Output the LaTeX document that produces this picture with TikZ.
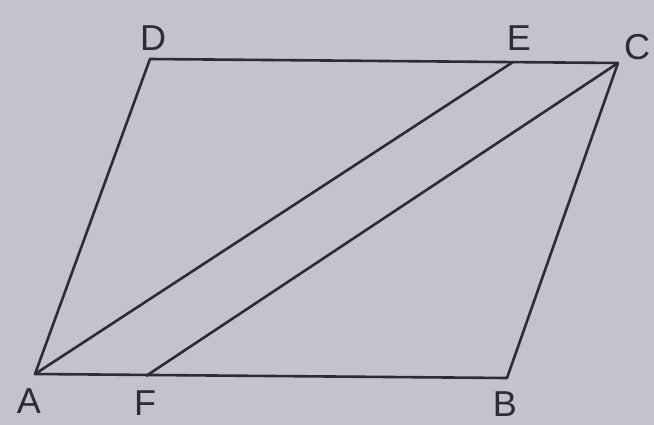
\documentclass[tikz,border=0pt]{standalone}
\usepackage{fontspec}
\setmainfont{Liberation Sans}
\definecolor{paper}{RGB}{196,195,204}
\definecolor{ink}{RGB}{45,44,50}
\tikzstyle{lbl}=[text=ink,font=\fontsize{36}{42}\selectfont]
\tikzstyle{edge}=[ink,line width=2.6pt,line join=round]

\begin{document}
\begin{tikzpicture}[x=1pt,y=-1pt]
\fill[paper] (0,0) rectangle (654,425);
\useasboundingbox (0,0) rectangle (654,425);
\coordinate (A) at (35,374);
\coordinate (B) at (507,378);
\coordinate (C) at (618,63);
\coordinate (D) at (150,59);
\coordinate (E) at (513,62);
\coordinate (F) at (146,376);
\node[lbl] (lA) at (29,401) {A};
\node[lbl] (lB) at (505,404) {B};
\node[lbl] (lC) at (637,47) {C};
\node[lbl] (lD) at (153,38) {D};
\node[lbl] (lE) at (519,38) {E};
\node[lbl] (lF) at (145,403) {F};
\draw[edge] (A)--(B)--(C)--(D)--cycle;
\draw[edge] (A)--(E);
\draw[edge] (F)--(C);
\end{tikzpicture}
\end{document}
